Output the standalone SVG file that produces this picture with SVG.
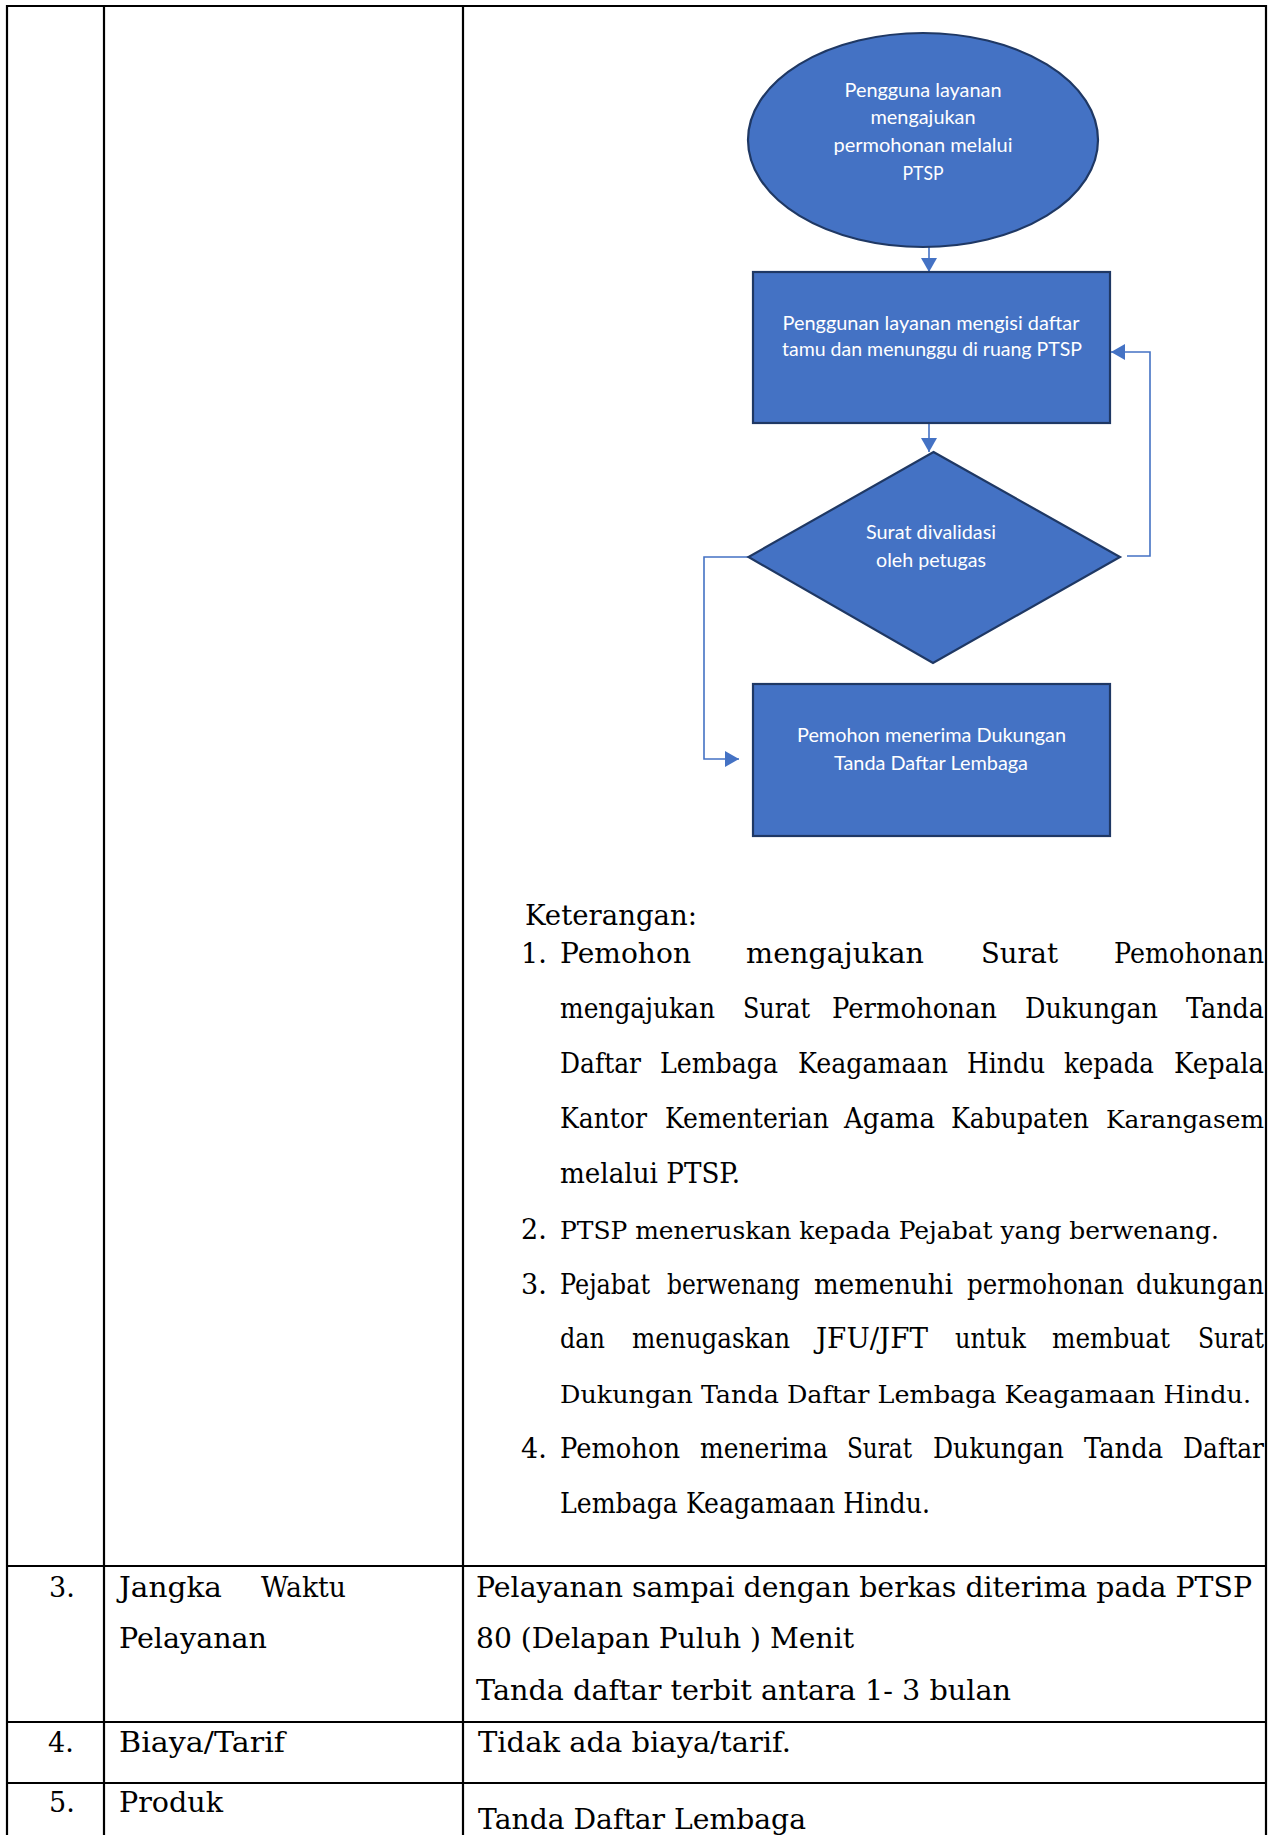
<svg xmlns="http://www.w3.org/2000/svg" width="1273" height="1835" viewBox="0 0 1273 1835">
  <style>
    .grid { stroke: #000; stroke-width: 2.2; fill: none; }
    .shape { fill: #4472C4; stroke: #1F3864; stroke-width: 2.2; }
    .lbl { font-family: Lato, "Liberation Sans", sans-serif; font-size: 19px; fill: #fff; text-anchor: middle; }
    .conn { fill: none; stroke: #4472C4; stroke-width: 1.6; }
    .doc { font-family: "DejaVu Serif", "Liberation Serif", serif; font-size: 27px; fill: #000; }
    .tight { font-size: 25px; }
  </style>
  <defs>
    <marker id="arrow" markerUnits="userSpaceOnUse" markerWidth="14" markerHeight="16" refX="14" refY="8" orient="auto">
      <path d="M0,0 L14,8 L0,16 z" fill="#4472C4"/>
    </marker>
  </defs>

  <rect x="0" y="0" width="1273" height="1835" fill="#fff"/>

  <!-- table rules -->
  <g id="table">
    <line class="grid" x1="6" y1="6" x2="1267" y2="6"/>
    <line class="grid" x1="7" y1="5" x2="7" y2="1835"/>
    <line class="grid" x1="104" y1="5" x2="104" y2="1835"/>
    <line class="grid" x1="463" y1="5" x2="463" y2="1835"/>
    <line class="grid" x1="1266" y1="5" x2="1266" y2="1835"/>
    <line class="grid" x1="6" y1="1566" x2="1267" y2="1566"/>
    <line class="grid" x1="6" y1="1722" x2="1267" y2="1722"/>
    <line class="grid" x1="6" y1="1783" x2="1267" y2="1783"/>
  </g>

  <!-- flowchart connectors -->
  <g id="connectors">
    <line class="conn" x1="929" y1="247" x2="929" y2="272" marker-end="url(#arrow)"/>
    <line class="conn" x1="929" y1="423" x2="929" y2="452" marker-end="url(#arrow)"/>
    <polyline class="conn" points="1127,556 1150,556 1150,352 1111,352" marker-end="url(#arrow)"/>
    <polyline class="conn" points="748,557 704,557 704,759 739,759" marker-end="url(#arrow)"/>
  </g>

  <!-- flowchart nodes -->
  <g id="start">
    <ellipse class="shape" cx="923" cy="140" rx="175" ry="107"/>
    <text class="lbl" x="923" y="97" textLength="157" lengthAdjust="spacingAndGlyphs">Pengguna layanan</text>
    <text class="lbl" x="923" y="124" textLength="105" lengthAdjust="spacingAndGlyphs">mengajukan</text>
    <text class="lbl" x="923" y="152" textLength="179" lengthAdjust="spacingAndGlyphs">permohonan melalui</text>
    <text class="lbl" x="923" y="180" textLength="41" lengthAdjust="spacingAndGlyphs">PTSP</text>
  </g>

  <g id="guestbook">
    <rect class="shape" x="753" y="272" width="357" height="151"/>
    <text class="lbl" x="931" y="330" textLength="297" lengthAdjust="spacingAndGlyphs">Penggunan layanan mengisi daftar</text>
    <text class="lbl" x="932" y="356" textLength="300" lengthAdjust="spacingAndGlyphs">tamu dan menunggu di ruang PTSP</text>
  </g>

  <g id="validation">
    <polygon class="shape" points="933.5,452 1120,557 933,663 748.5,557"/>
    <text class="lbl" x="931" y="539" textLength="130" lengthAdjust="spacingAndGlyphs">Surat divalidasi</text>
    <text class="lbl" x="931" y="567" textLength="110" lengthAdjust="spacingAndGlyphs">oleh petugas</text>
  </g>

  <g id="result">
    <rect class="shape" x="753" y="684" width="357" height="152"/>
    <text class="lbl" x="931.5" y="742" textLength="269" lengthAdjust="spacingAndGlyphs">Pemohon menerima Dukungan</text>
    <text class="lbl" x="931" y="770" textLength="194" lengthAdjust="spacingAndGlyphs">Tanda Daftar Lembaga</text>
  </g>

  <!-- explanatory notes -->
  <g id="notes">
    <text class="doc" x="525" y="925" textLength="172" lengthAdjust="spacingAndGlyphs">Keterangan:</text>

    <text class="doc" y="963"><tspan x="521">1.</tspan><tspan x="560" textLength="131" lengthAdjust="spacingAndGlyphs">Pemohon</tspan><tspan x="746" textLength="178" lengthAdjust="spacingAndGlyphs">mengajukan</tspan><tspan x="981" textLength="77" lengthAdjust="spacingAndGlyphs">Surat</tspan><tspan x="1114" textLength="150" lengthAdjust="spacingAndGlyphs">Pemohonan</tspan></text>
    <text class="doc" y="1018"><tspan x="560" textLength="155" lengthAdjust="spacingAndGlyphs">mengajukan</tspan><tspan x="743" textLength="67" lengthAdjust="spacingAndGlyphs">Surat</tspan><tspan x="832" textLength="165" lengthAdjust="spacingAndGlyphs">Permohonan</tspan><tspan x="1025" textLength="133" lengthAdjust="spacingAndGlyphs">Dukungan</tspan><tspan x="1186" textLength="78" lengthAdjust="spacingAndGlyphs">Tanda</tspan></text>
    <text class="doc" y="1073"><tspan x="560" textLength="81" lengthAdjust="spacingAndGlyphs">Daftar</tspan><tspan x="660" textLength="118" lengthAdjust="spacingAndGlyphs">Lembaga</tspan><tspan x="798" textLength="150" lengthAdjust="spacingAndGlyphs">Keagamaan</tspan><tspan x="967" textLength="78" lengthAdjust="spacingAndGlyphs">Hindu</tspan><tspan x="1064" textLength="90" lengthAdjust="spacingAndGlyphs">kepada</tspan><tspan x="1174" textLength="90" lengthAdjust="spacingAndGlyphs">Kepala</tspan></text>
    <text class="doc" y="1128"><tspan x="560" textLength="87" lengthAdjust="spacingAndGlyphs">Kantor</tspan><tspan x="665" textLength="164" lengthAdjust="spacingAndGlyphs">Kementerian</tspan><tspan x="844" textLength="91" lengthAdjust="spacingAndGlyphs">Agama</tspan><tspan x="951" textLength="138" lengthAdjust="spacingAndGlyphs">Kabupaten</tspan><tspan class="tight" x="1106" textLength="158" lengthAdjust="spacingAndGlyphs">Karangasem</tspan></text>
    <text class="doc" x="560" y="1183" textLength="180" lengthAdjust="spacingAndGlyphs">melalui PTSP.</text>

    <text class="doc" y="1239"><tspan x="521">2.</tspan><tspan class="tight" x="560" textLength="659" lengthAdjust="spacingAndGlyphs">PTSP meneruskan kepada Pejabat yang berwenang.</tspan></text>

    <text class="doc" y="1294"><tspan x="521">3.</tspan><tspan x="560" textLength="90" lengthAdjust="spacingAndGlyphs">Pejabat</tspan><tspan x="667" textLength="133" lengthAdjust="spacingAndGlyphs">berwenang</tspan><tspan x="814" textLength="139" lengthAdjust="spacingAndGlyphs">memenuhi</tspan><tspan x="967" textLength="157" lengthAdjust="spacingAndGlyphs">permohonan</tspan><tspan x="1136" textLength="128" lengthAdjust="spacingAndGlyphs">dukungan</tspan></text>
    <text class="doc" y="1348"><tspan x="560" textLength="45" lengthAdjust="spacingAndGlyphs">dan</tspan><tspan x="632" textLength="158" lengthAdjust="spacingAndGlyphs">menugaskan</tspan><tspan x="816" textLength="112" lengthAdjust="spacingAndGlyphs">JFU/JFT</tspan><tspan x="955" textLength="71" lengthAdjust="spacingAndGlyphs">untuk</tspan><tspan x="1052" textLength="118" lengthAdjust="spacingAndGlyphs">membuat</tspan><tspan x="1198" textLength="66" lengthAdjust="spacingAndGlyphs">Surat</tspan></text>
    <text class="doc tight" x="560" y="1403" textLength="691" lengthAdjust="spacingAndGlyphs">Dukungan Tanda Daftar Lembaga Keagamaan Hindu.</text>

    <text class="doc" y="1458"><tspan x="521">4.</tspan><tspan x="560" textLength="120" lengthAdjust="spacingAndGlyphs">Pemohon</tspan><tspan x="700" textLength="128" lengthAdjust="spacingAndGlyphs">menerima</tspan><tspan x="847" textLength="65" lengthAdjust="spacingAndGlyphs">Surat</tspan><tspan x="933" textLength="131" lengthAdjust="spacingAndGlyphs">Dukungan</tspan><tspan x="1084" textLength="79" lengthAdjust="spacingAndGlyphs">Tanda</tspan><tspan x="1183" textLength="81" lengthAdjust="spacingAndGlyphs">Daftar</tspan></text>
    <text class="doc" x="560" y="1513" textLength="370" lengthAdjust="spacingAndGlyphs">Lembaga Keagamaan Hindu.</text>
  </g>

  <!-- lower table rows -->
  <g id="row-3">
    <text class="doc" x="49" y="1597">3.</text>
    <text class="doc" y="1597"><tspan x="119" textLength="103" lengthAdjust="spacingAndGlyphs">Jangka</tspan><tspan x="261" textLength="85" lengthAdjust="spacingAndGlyphs">Waktu</tspan></text>
    <text class="doc" x="119" y="1648" textLength="148" lengthAdjust="spacingAndGlyphs">Pelayanan</text>
    <text class="doc" x="476" y="1597" textLength="776" lengthAdjust="spacingAndGlyphs">Pelayanan sampai dengan berkas diterima pada PTSP</text>
    <text class="doc" x="476" y="1648" textLength="378" lengthAdjust="spacingAndGlyphs">80 (Delapan Puluh ) Menit</text>
    <text class="doc" x="476" y="1700" textLength="535" lengthAdjust="spacingAndGlyphs">Tanda daftar terbit antara 1- 3 bulan</text>
  </g>
  <g id="row-4">
    <text class="doc" x="48" y="1752">4.</text>
    <text class="doc" x="119" y="1752" textLength="166" lengthAdjust="spacingAndGlyphs">Biaya/Tarif</text>
    <text class="doc" x="478" y="1752" textLength="313" lengthAdjust="spacingAndGlyphs">Tidak ada biaya/tarif.</text>
  </g>
  <g id="row-5">
    <text class="doc" x="49" y="1812">5.</text>
    <text class="doc" x="119" y="1812" textLength="104" lengthAdjust="spacingAndGlyphs">Produk</text>
    <text class="doc" x="478" y="1829" textLength="328" lengthAdjust="spacingAndGlyphs">Tanda Daftar Lembaga</text>
  </g>
</svg>
